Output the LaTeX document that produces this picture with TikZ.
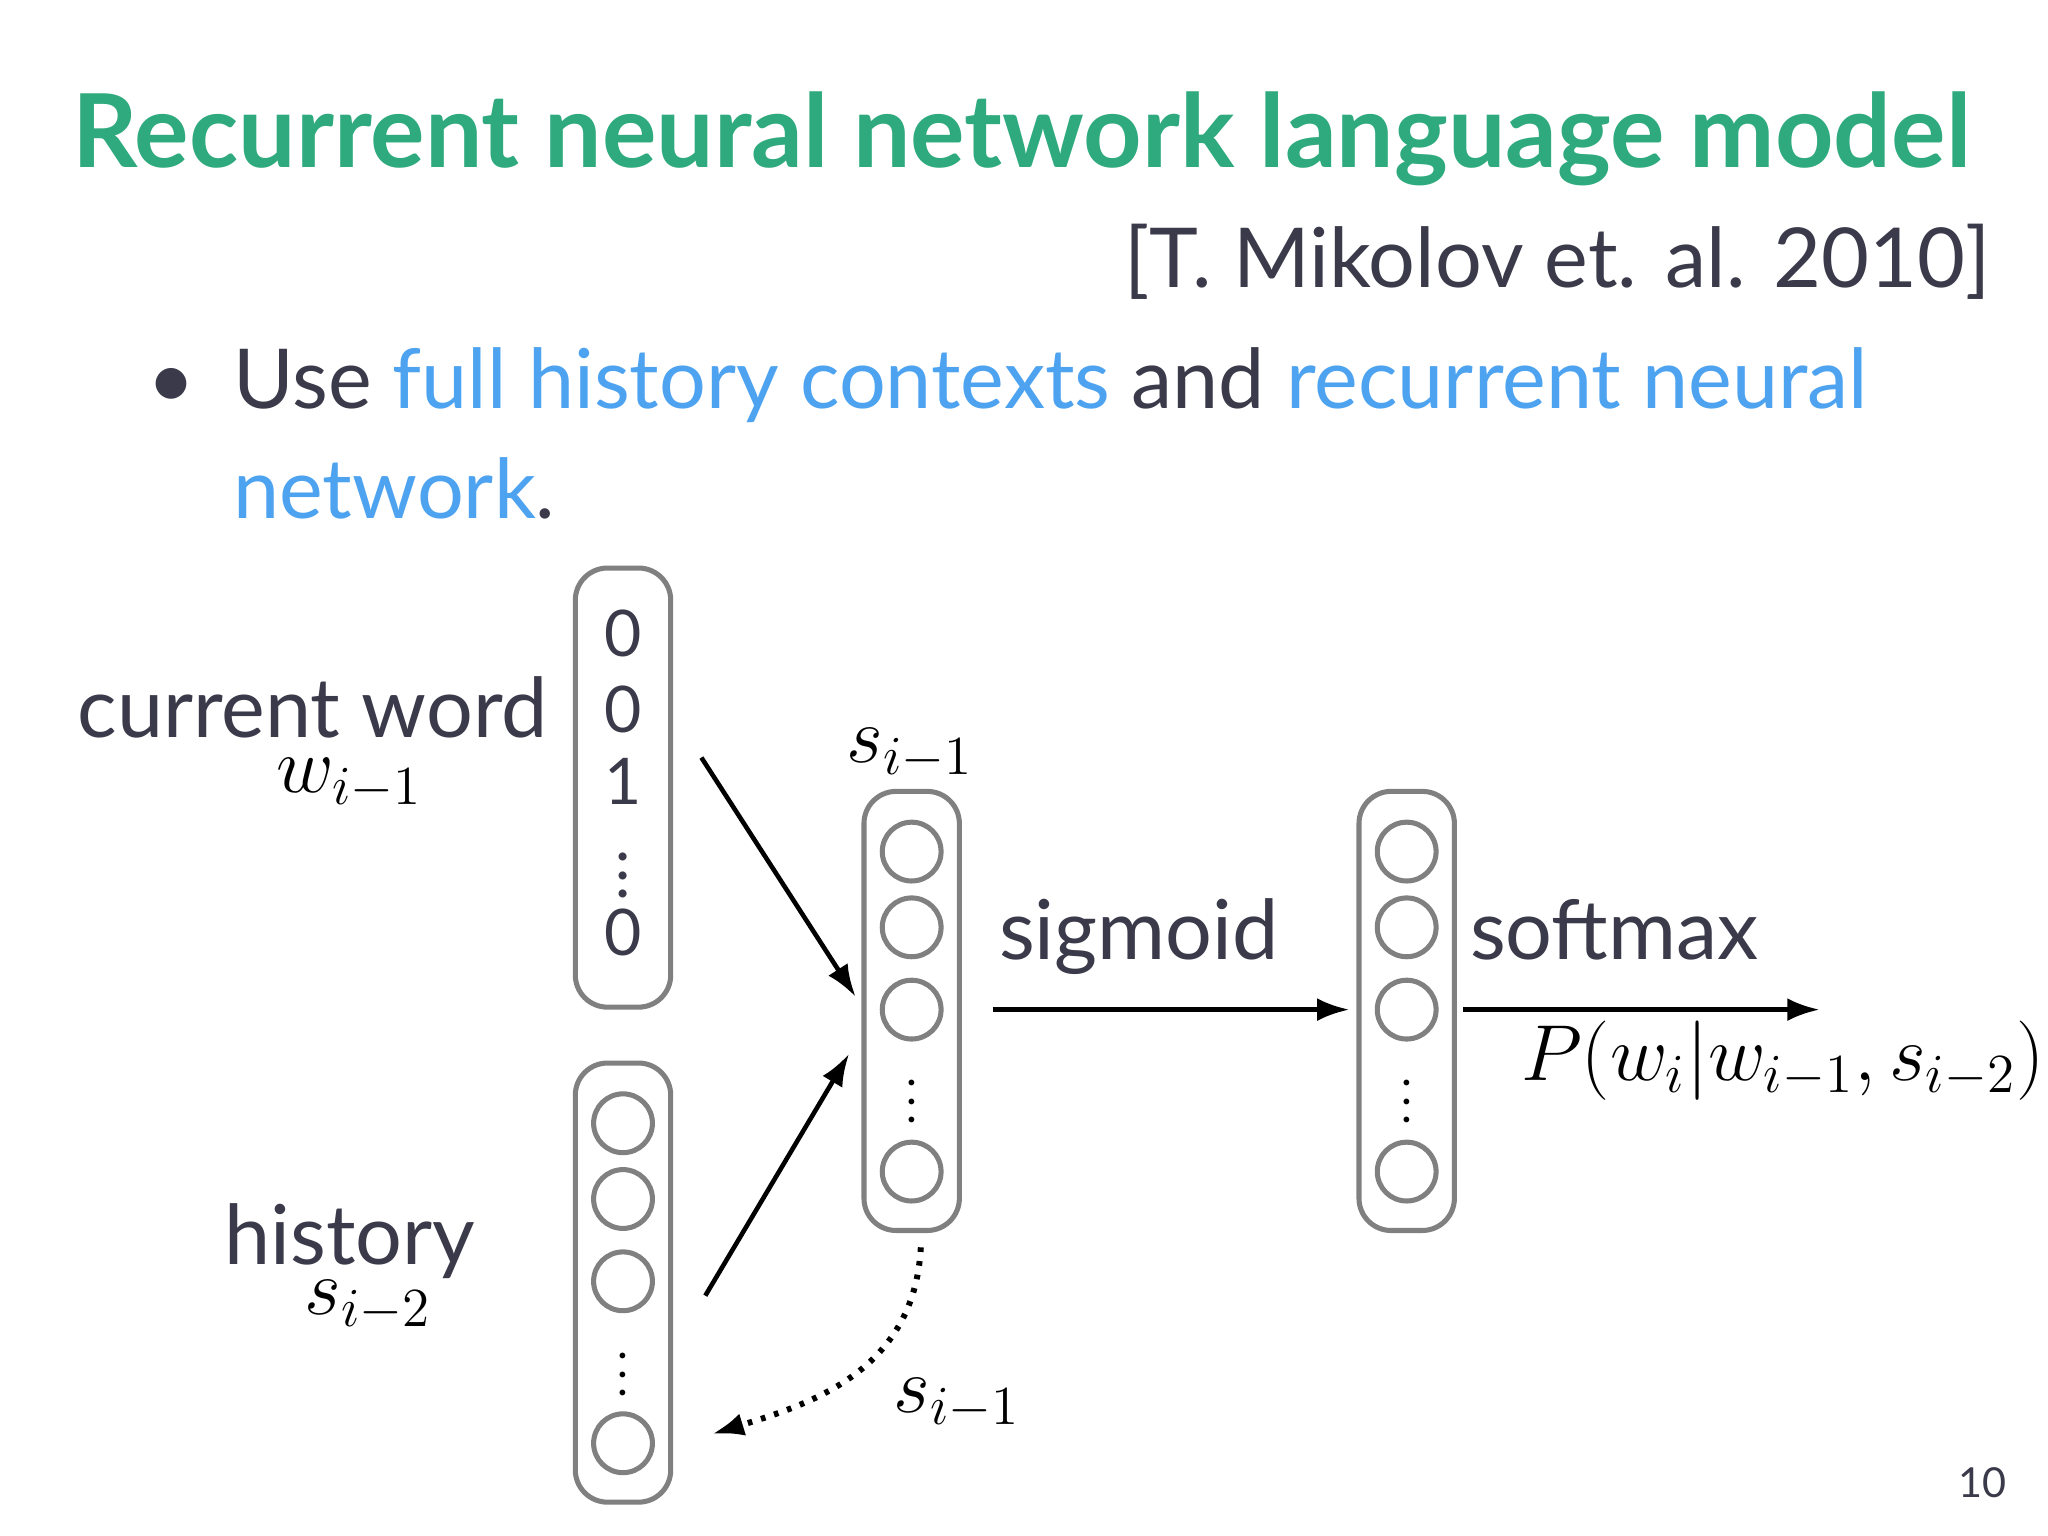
\documentclass[tikz,border=0pt]{standalone}
\usepackage{fontspec}
\setmainfont{Lato}
\usetikzlibrary{arrows.meta}
\definecolor{tgreen}{HTML}{2EAA7E}
\definecolor{tblue}{HTML}{4DA3F0}
\definecolor{tdark}{HTML}{3A3A4A}
\definecolor{tbox}{HTML}{808080}
\begin{document}
\begin{tikzpicture}[x=0.01cm,y=-0.01cm,
  vec/.style={draw=tbox,line width=1.1pt,rounded corners=7pt,minimum width=0.73cm,minimum height=3.36cm},
  neu/.style={draw=tbox,line width=1.1pt,circle,minimum size=0.45cm,inner sep=0pt},
  txt/.style={text=tdark,font=\fontsize{18}{20}\selectfont},
  arr/.style={-{Latex[length=7pt,width=5pt]},line width=1pt},
  dig/.style={text=tdark,font=\fontsize{14}{15}\selectfont,inner sep=0pt}]
\useasboundingbox (0,0) rectangle (1568,1176);
\fill[white] (0,0) rectangle (1568,1176);
\node[anchor=base west,text=tgreen,font=\bfseries\fontsize{22.2}{24}\selectfont,inner sep=0] (title) at (55,128) {Recurrent neural network language model};
\node[anchor=base east,txt,inner sep=0] (cite) at (1525,220) {[T. Mikolov et. al. 2010]};
\node[anchor=base,txt,inner sep=0] (bul) at (131,313) {•};
\node[anchor=base west,txt,inner sep=0] (l1) at (178,313) {Use \textcolor{tblue}{full history contexts} and \textcolor{tblue}{recurrent neural}};
\node[anchor=base west,txt,inner sep=0] (l2) at (178,397) {\textcolor{tblue}{network}.};
% boxes
\node[vec] (b1) at (477,603) {};
\node[vec] (b2) at (477,982) {};
\node[vec] (b3) at (698,774) {};
\node[vec] (b4) at (1077,774) {};
\foreach \y/\t in {485/0,543/0,598/1,714/0} \node[dig] at (477,\y) {\t};
\node[dig] at (477,660) {$\vdots$};
\foreach \y in {860,918,981,1105} \node[neu] at (477,\y) {};
\node[inner sep=0pt] at (477,1042) {$\vdots$};
\foreach \x in {698,1077}{
  \foreach \y in {652,710,773,897} \node[neu] at (\x,\y) {};
  \node[inner sep=0pt] at (\x,833) {$\vdots$};}
% labels
\node[anchor=base east,txt,inner sep=0] (cw) at (420,565) {current word};
\node[font=\fontsize{17}{18}\selectfont] (w) at (268,600) {$w_{i-1}$};
\node[anchor=base,txt,inner sep=0] (hi) at (268,968) {history};
\node[font=\fontsize{17}{18}\selectfont] (s2) at (282,1000) {$s_{i-2}$};
\node[font=\fontsize{17}{18}\selectfont] (s1) at (697,577) {$s_{i-1}$};
\node[font=\fontsize{17}{18}\selectfont] (s1b) at (733,1075) {$s_{i-1}$};
\node[anchor=base,txt,inner sep=0] (sg) at (872,735) {sigmoid};
\node[anchor=base,txt,inner sep=0] (sm) at (1236,735) {softmax};
\node[font=\fontsize{17}{18}\selectfont] (p) at (1365,812) {$P(w_i|w_{i-1},s_{i-2})$};
\node[text=tdark,font=\fontsize{9}{10}\selectfont] (pg) at (1518,1135) {10};
% arrows
\coordinate (a1) at (537,580); \coordinate (a1e) at (655,763);
\coordinate (a2) at (540,992); \coordinate (a2e) at (650,807);
\coordinate (a3) at (760,773); \coordinate (a3e) at (1033,773);
\coordinate (a4) at (1120,773); \coordinate (a4e) at (1393,773);
\coordinate (d1) at (705,955); \coordinate (d2) at (545,1098);
\draw[arr] (a1) -- (a1e);
\draw[arr] (a2) -- (a2e);
\draw[arr] (a3) -- (a3e);
\draw[arr] (a4) -- (a4e);
\draw[arr,dotted,line width=1.3pt] (d1) .. controls (700,1050) and (620,1075) .. (d2);
\end{tikzpicture}
\end{document}
